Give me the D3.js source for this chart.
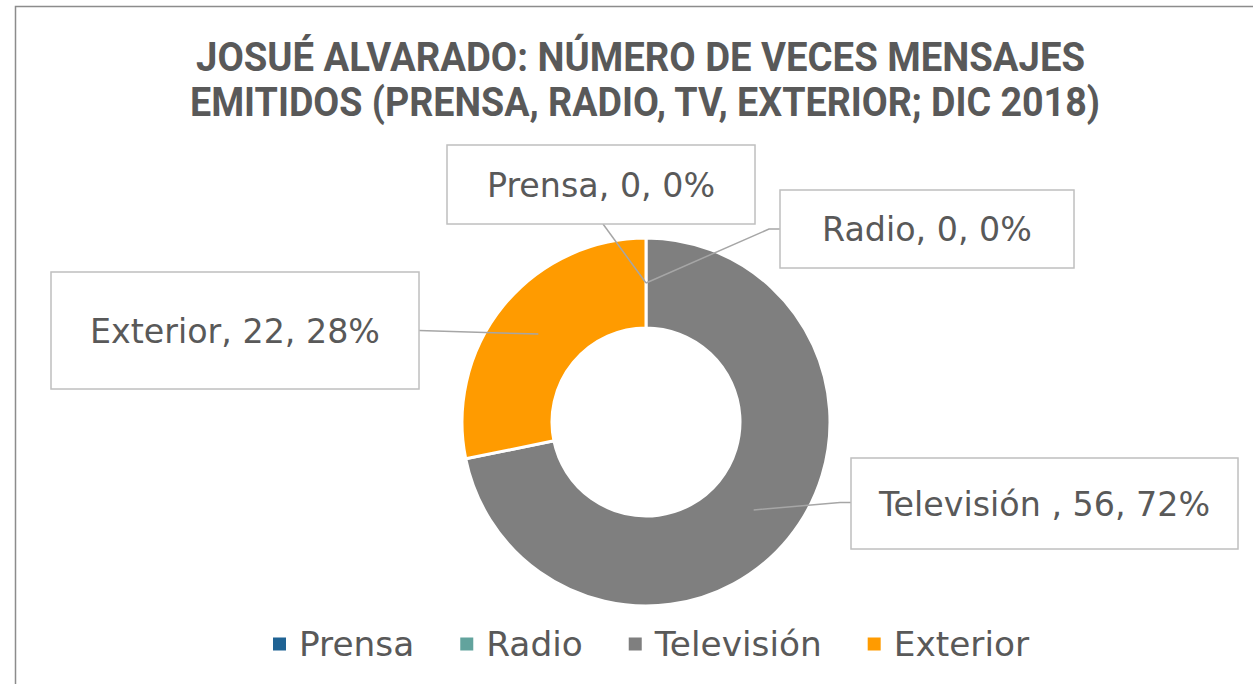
<!DOCTYPE html>
<html>
<head>
<meta charset="utf-8">
<script src="https://cdn.jsdelivr.net/npm/d3@7"></script>
<style>
  html, body { margin: 0; padding: 0; background: #ffffff; }
  svg { display: block; }
</style>
</head>
<body>
<div id="chart"></div>
<script>
// Chart data
var categories = ['Prensa', 'Radio', 'Televisión', 'Exterior']
var values = [0, 0, 56, 22]
var percentLabels = ['0%', '0%', '72%', '28%']
var labelNames = ['Prensa', 'Radio', 'Televisión ', 'Exterior']
var colours = ['#1f6394', '#62a39d', '#7f7f7f', '#ff9b00']
var titleLines = ['JOSUÉ ALVARADO: NÚMERO DE VECES MENSAJES', 'EMITIDOS (PRENSA, RADIO, TV, EXTERIOR; DIC 2018)']

// Layout variables
var width = 1253
var height = 684
var cx = 646
var cy = 422
var outerR = 184
var innerR = 94
var textColour = '#595959'
var labelFont = "'Century Gothic', 'DejaVu Sans', sans-serif"

// Label boxes (placed by hand, as in the original sheet)
var labelBoxes = [
  { x: 447, y: 145, w: 308, h: 79, side: 'top' },
  { x: 780, y: 190, w: 294, h: 78, side: 'right' },
  { x: 851, y: 458, w: 387, h: 91, side: 'right' },
  { x: 51, y: 272, w: 368, h: 117, side: 'left' }
]

var svg = d3.select('#chart').append('svg')
  .attr('width', width)
  .attr('height', height)

// Chart frame
svg.append('rect')
  .attr('x', 15.5)
  .attr('y', 6.5)
  .attr('width', 1300)
  .attr('height', 720)
  .style('fill', '#ffffff')
  .style('stroke', '#8c8c8c')
  .style('stroke-width', 1.5)

// Title: a condensed bold face is imitated by squeezing the glyphs to the original width
var titleWidths = [889, 910]
var titleX = [640.5, 645]
var titleY = [71, 116]
titleLines.forEach(function (t, i) {
  svg.append('text')
    .attr('x', titleX[i] - titleWidths[i] / 2)
    .attr('y', titleY[i])
    .attr('textLength', titleWidths[i])
    .attr('lengthAdjust', 'spacingAndGlyphs')
    .style('font-family', "'Roboto', 'Open Sans', sans-serif")
    .style('font-weight', 'bold')
    .style('font-size', '41px')
    .style('fill', textColour)
    .text(t)
})

// Donut
var pie = d3.pie().sort(null).value(function (d) { return d })
var arcs = pie(values)
var arc = d3.arc().innerRadius(innerR).outerRadius(outerR)
var midArc = d3.arc().innerRadius((innerR + outerR) / 2).outerRadius((innerR + outerR) / 2)

var donut = svg.append('g')
  .attr('transform', 'translate(' + cx + ',' + cy + ')')

donut.selectAll('path.slice')
  .data(arcs)
  .enter().append('path')
  .attr('class', 'slice')
  .attr('d', arc)
  .style('fill', function (d, i) { return colours[i] })
  .style('stroke', '#ffffff')
  .style('stroke-width', function (d) { return d.value > 0 ? 3 : 0 })

// Leader lines
var leaders = svg.append('g')
arcs.forEach(function (d, i) {
  var c = midArc.centroid(d)
  var p = [cx + c[0], cy + c[1]]
  var b = labelBoxes[i]
  var pts
  if (b.side === 'top') {
    pts = [p, [b.x + b.w / 2 + 2, b.y + b.h]]
  } else if (b.side === 'right') {
    var ly = b.y + b.h / 2 - (i === 2 ? 1 : 0)
    pts = [p, [b.x - 11, ly], [b.x, ly]]
  } else {
    pts = [p, [b.x + b.w, b.y + b.h / 2]]
  }
  leaders.append('path')
    .attr('d', d3.line()(pts))
    .style('fill', 'none')
    .style('stroke', '#a6a6a6')
    .style('stroke-width', 1.5)
})

// Label boxes and texts
var labelGroup = svg.append('g')
var labelTexts = []
arcs.forEach(function (d, i) {
  var b = labelBoxes[i]
  labelGroup.append('rect')
    .attr('x', b.x)
    .attr('y', b.y)
    .attr('width', b.w)
    .attr('height', b.h)
    .style('fill', '#ffffff')
    .style('stroke', '#bfbfbf')
    .style('stroke-width', 1.5)
  var t = labelGroup.append('text')
    .attr('x', b.x + b.w / 2)
    .attr('y', b.y + b.h / 2 + 12)
    .attr('text-anchor', 'middle')
    .style('font-family', labelFont)
    .style('font-size', '32px')
    .style('fill', textColour)
    .text(labelNames[i] + ', ' + d.value + ', ' + percentLabels[i])
  labelTexts.push(t)
})
// One shared size for all labels, matched to the total width of the originals
var labelTarget = 230 + 216 + 334 + 280
var labelMeasured = d3.sum(labelTexts, function (t) { return t.node().getComputedTextLength() })
var labelSize = 32 * labelTarget / labelMeasured
labelTexts.forEach(function (t) { t.style('font-size', labelSize + 'px') })

// Legend
var legend = svg.append('g')
var legendItems = categories.map(function (c, i) {
  var g = legend.append('g')
  g.append('rect')
    .attr('x', 0)
    .attr('y', -6.5)
    .attr('width', 13)
    .attr('height', 13)
    .style('fill', colours[i])
  var t = g.append('text')
    .attr('x', 26)
    .attr('y', 12)
    .style('font-family', labelFont)
    .style('font-size', labelSize + 'px')
    .style('fill', textColour)
    .text(c)
  return { g: g, t: t }
})
var legendTextTarget = 118 + 102 + 168 + 126
var legendMeasured = d3.sum(legendItems, function (d) { return d.t.node().getComputedTextLength() })
var legendSize = labelSize * legendTextTarget / legendMeasured
var legendX = 273
legendItems.forEach(function (d) {
  d.t.style('font-size', legendSize + 'px')
  d.g.attr('transform', 'translate(' + legendX + ',644)')
  legendX += 26 + d.t.node().getComputedTextLength() + 46
})
</script>
</body>
</html>
